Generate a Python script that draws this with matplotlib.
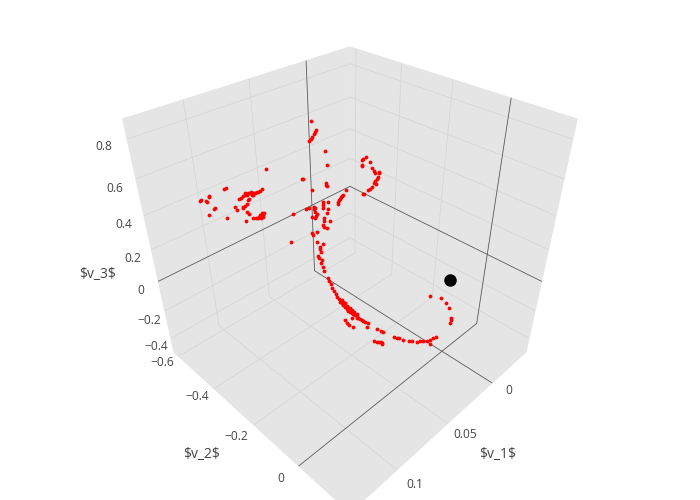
import matplotlib
matplotlib.use('Agg')
import matplotlib.pyplot as plt

# red cloud
v1 = [0.0657,0.0902,0.0894,0.0990,0.0995,0.1046,0.1040,0.1018,0.1016,0.1003,0.0996,0.1043,0.0969,0.0902,0.0900,0.0862,0.0850,0.0833,
      0.0823,0.0816,0.0803,0.0795,0.0792,0.0778,0.0784,0.0772,0.0761,0.0752,0.0742,0.0730,0.0812,0.0786,0.0821,0.0813,0.0840,0.0851,0.0862,
      0.0868,0.0858,0.0854,0.0887,0.0846,0.0835,0.0823,0.0812,0.0800,0.0807,0.0794,0.0782,0.0814,0.0791,0.0317,0.0320,0.0330,0.0339,0.0357,
      0.0368,0.0382,0.0333,0.0361,0.0517,0.0511,0.0418,0.0420,0.0420,0.0498,0.0160,0.0182,0.0187,0.0158,0.0200,0.0205,0.0162,0.0162,0.0163,
      0.0140,0.0146,0.0161,0.0170,0.0183,0.0191,0.0188,0.0216,0.0227,0.0240,0.0273,0.0267,0.0341,0.0367,0.0375,0.0385,0.0394,0.0400,0.0410,
      0.0418,0.0652,0.0579,0.0560,0.0533,0.0533,0.0539,0.0480,0.0458,0.0490,0.0494,0.0477,0.0493,0.0543,0.0542,0.0550,0.0561,0.0571,0.0518,
      0.0526,0.0499,0.0540,0.0543,0.0532,0.0616,0.0615,0.0588,0.0735,0.0614,0.0591,0.0614,0.0621,0.0625,0.0646,0.0646,0.0641,0.0653,0.0653,
      0.0658,0.0662,0.0664,0.0665,0.0666,0.0667,0.0668,0.0667,0.0665,0.0667,0.0664,0.0662,0.0659,0.0657,0.0654,0.0648,0.0645,0.0640,0.0634,
      0.0630,0.0626,0.0621,0.0617,0.0612,0.0607,0.0598,0.0656,0.0653,0.0649,0.0648,0.0646,0.0639,0.0636,0.0629,0.0623,0.0658,0.0632,0.0695,
      0.0692,0.0687,0.0675,0.0610,0.0571,0.0557,0.0552,0.0511,0.0502,0.0491,0.0477,0.0453,0.0441,0.0420,0.0404,0.0388,0.0371,0.0354,0.0334,
      0.0320,0.0615,0.0605,0.0596,0.0587,0.0583,0.0586,0.0365,0.0236,0.0190,0.0180,0.0179,0.0197,0.0205,0.0215]
v2 = [-0.487,-0.550,-0.548,-0.573,-0.574,-0.587,-0.586,-0.574,-0.570,-0.548,-0.547,-0.552,-0.510,-0.506,-0.500,
      -0.507,-0.505,-0.502,-0.500,-0.503,-0.495,-0.492,-0.486,-0.485,-0.483,-0.481,-0.479,-0.476,-0.474,-0.472,
      -0.495,-0.491,-0.487,-0.486,-0.485,-0.487,-0.489,-0.489,-0.474,-0.469,-0.467,-0.455,-0.450,-0.444,-0.439,
      -0.436,-0.445,-0.443,-0.439,-0.444,-0.438,-0.451,-0.430,-0.430,-0.429,-0.429,-0.429,-0.430,-0.386,-0.365,
      -0.401,-0.399,-0.346,-0.340,-0.343,-0.366,-0.293,-0.298,-0.297,-0.279,-0.291,-0.290,-0.268,-0.261,-0.255,
      -0.249,-0.247,-0.244,-0.245,-0.246,-0.245,-0.241,-0.245,-0.247,-0.249,-0.255,-0.253,-0.294,-0.295,-0.296,
      -0.297,-0.297,-0.297,-0.297,-0.295,-0.378,-0.356,-0.351,-0.341,-0.339,-0.339,-0.328,-0.319,-0.326,-0.321,
      -0.311,-0.307,-0.334,-0.327,-0.327,-0.326,-0.334,-0.306,-0.304,-0.291,-0.300,-0.297,-0.288,-0.315,-0.310,
      -0.304,-0.347,-0.293,-0.278,-0.281,-0.278,-0.273,-0.274,-0.269,-0.262,-0.261,-0.251,-0.243,-0.227,-0.221,
      -0.214,-0.206,-0.199,-0.191,-0.185,-0.179,-0.173,-0.168,-0.162,-0.157,-0.151,-0.145,-0.140,-0.135,-0.130,
      -0.126,-0.121,-0.116,-0.111,-0.106,-0.101,-0.096,-0.090,-0.172,-0.166,-0.161,-0.155,-0.149,-0.145,-0.139,-0.131,
      -0.124,-0.129,-0.117,-0.140,-0.132,-0.126,-0.115,-0.086,-0.064,-0.053,-0.047,-0.018,-0.012,-0.006,0.004,0.018,0.024,0.035,0.041,0.048,
      0.054,0.060,0.065,0.069,-0.054,-0.049,-0.043,-0.039,-0.035,-0.034,0.066,0.008,0.032,0.050,0.062,0.077,0.080,0.081]
v3 = [0.525,0.445,0.448,0.418,0.414,0.398,0.401,0.398,0.392,0.365,0.368,0.341,0.326,0.371,0.361,0.403,0.409,0.417,0.421,0.430,0.428,0.428,0.421,0.430,0.421,0.428,0.432,0.434,0.438,0.444,
      0.421,0.434,0.401,0.405,0.383,0.377,0.373,0.368,0.350,0.345,0.315,0.326,0.326,0.326,0.326,0.330,0.339,0.346,0.349,0.333,0.339,0.723,0.685,0.677,0.669,0.656,0.648,0.639,0.601,0.544,
      0.486,0.487,0.469,0.458,0.463,0.441,0.576,0.567,0.562,0.554,0.543,0.538,0.532,0.520,0.509,0.516,0.509,0.493,0.486,0.479,0.471,0.466,0.452,0.447,0.441,0.426,0.426,0.440,0.422,0.417,
      0.412,0.405,0.401,0.391,0.383,0.345,0.364,0.369,0.373,0.369,0.364,0.391,0.394,0.380,0.369,0.365,0.346,0.353,0.344,0.335,0.326,0.333,0.326,0.316,0.315,0.299,0.291,0.285,0.265,0.258,
      0.269,0.230,0.230,0.221,0.210,0.200,0.188,0.174,0.166,0.156,0.145,0.129,0.113,0.082,0.071,0.057,0.044,0.030,0.017,0.007,-0.002,-0.013,-0.020,-0.027,-0.035,-0.043,-0.050,-0.054,-0.061,-0.065,
      -0.068,-0.073,-0.079,-0.083,-0.088,-0.092,-0.097,-0.101,-0.007,-0.013,-0.020,-0.030,-0.038,-0.040,-0.047,-0.054,-0.062,-0.081,-0.081,-0.089,-0.101,-0.108,-0.118,-0.118,-0.125,-0.133,-0.138,-0.157,-0.160,-0.162,
      -0.168,-0.172,-0.173,-0.176,-0.175,-0.175,-0.172,-0.169,-0.162,-0.158,-0.175,-0.176,-0.179,-0.179,-0.183,-0.187,-0.187,0.009,0.003,-0.019,-0.039,-0.079,-0.088,-0.099]

# the single black point
black_v1 = [0.0101]
black_v2 = [0.030]
black_v3 = [0.075]

v1_lim = (-0.0433, 0.1402)
v2_lim = (-0.628, 0.199)
v3_lim = (-0.503, 0.895)
v1_ticks = [0, 0.05, 0.1]
v2_ticks = [-0.6, -0.4, -0.2, 0]
v3_ticks = [-0.4, -0.2, 0, 0.2, 0.4, 0.6, 0.8]
v1_labels = ['0', '0.05', '0.1']
v2_labels = ['\u22120.6', '\u22120.4', '\u22120.2', '0']
v3_labels = ['\u22120.4', '\u22120.2', '0', '0.2', '0.4', '0.6', '0.8']

# label centres in pixels from the top left
v1_label_pos = [(509, 391), (465, 434), (415, 484)]
v2_label_pos = [(162, 363), (197, 397), (236, 436), (281, 479)]
v3_label_pos = [(156, 347), (149, 320), (141, 290), (133, 259), (124, 225), (115, 188), (104, 147)]

plt.rcParams['font.family'] = ['Open Sans', 'DejaVu Sans']
plt.rcParams['grid.color'] = '#d6d6d6'
plt.rcParams['grid.linewidth'] = 0.6

fig = plt.figure(figsize=(7, 5), dpi=100)
ax = fig.add_axes([93.2 / 700, -7 / 500, 500 / 700, 1], projection='3d')
ax.set_proj_type('persp', focal_length=0.236)
ax.set_box_aspect((1, 1, 1), zoom=0.943)
ax.view_init(elev=35.26, azim=45)
ax.set_xlim(*v1_lim, view_margin=0)
ax.set_ylim(*v2_lim, view_margin=0)
ax.set_zlim(*v3_lim, view_margin=0)
ax.set_xticks(v1_ticks)
ax.set_yticks(v2_ticks)
ax.set_zticks(v3_ticks)
ax.set_xticklabels([])
ax.set_yticklabels([])
ax.set_zticklabels([])
for axis in [ax.xaxis, ax.yaxis, ax.zaxis]:
    axis.set_pane_color('#e5e5e5')
    axis.pane.set_edgecolor('#e5e5e5')
    axis.line.set_color((0, 0, 0, 0))
    axis.set_tick_params(color=(0, 0, 0, 0))

# zero lines on the two walls and the floor
zero = dict(color='#555555', lw=0.55)
ax.plot([v1_lim[0]] * 2, [0, 0], v3_lim, **zero)
ax.plot([v1_lim[0]] * 2, v2_lim, [0, 0], **zero)
ax.plot([0, 0], [v2_lim[0]] * 2, v3_lim, **zero)
ax.plot(v1_lim, [v2_lim[0]] * 2, [0, 0], **zero)
ax.plot([0, 0], v2_lim, [v3_lim[0]] * 2, **zero)
ax.plot(v1_lim, [0, 0], [v3_lim[0]] * 2, **zero)

ax.scatter(v1, v2, v3, s=7.5, c='red', linewidths=0, depthshade=False)
ax.scatter(black_v1, black_v2, black_v3, s=81, c='black', linewidths=0, depthshade=False)


def put_text(pos, s, size):
    fig.text(pos[0] / 700, 1 - pos[1] / 500, s, fontsize=size, color='#444444',
             ha='center', va='center', parse_math=False)


for labels, positions in [(v1_labels, v1_label_pos), (v2_labels, v2_label_pos), (v3_labels, v3_label_pos)]:
    for s, pos in zip(labels, positions):
        put_text(pos, s, 8.64)

put_text((498, 455), '$v_1$', 10)
put_text((202, 455), '$v_2$', 10)
put_text((98, 275), '$v_3$', 10)

fig.savefig('out.png', dpi=100)
